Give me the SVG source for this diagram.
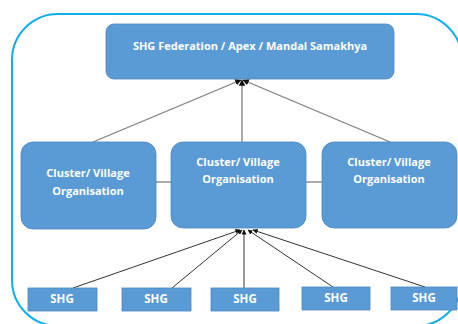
<svg xmlns="http://www.w3.org/2000/svg" width="458" height="324" viewBox="0 0 458 324">
<defs>
<marker id="ah" viewBox="0 0 10 10" refX="9" refY="5" markerWidth="5" markerHeight="5" orient="auto">
<path d="M0,0 L10,5 L0,10 z" fill="#111"/>
</marker>
<style>
.box{fill:#5B9BD5;stroke:#4A88C2;stroke-width:0.8}
.t{font-family:"Open Sans","Liberation Sans",sans-serif;font-weight:bold;fill:#fff;text-anchor:middle;font-size:11px}
.s{font-size:11.5px}
.c1{stroke:#7f7f7f;stroke-width:1.3;fill:none}
.c2{stroke:#333;stroke-width:1;fill:none}
</style>
</defs>
<rect width="458" height="324" fill="#fff"/>
<rect x="12" y="14" width="450" height="312" rx="46" fill="none" stroke="#10AEEA" stroke-width="2"/>
<g id="connectors">
<line class="c1" x1="156" y1="182" x2="171" y2="182"/>
<line class="c1" x1="306" y1="182" x2="322" y2="182"/>
<line class="c1" x1="93" y1="142" x2="241" y2="80" marker-end="url(#ah)"/>
<line class="c1" x1="242" y1="142" x2="242" y2="80" marker-end="url(#ah)"/>
<line class="c1" x1="390" y1="142" x2="243" y2="80" marker-end="url(#ah)"/>
<line class="c2" x1="73" y1="288" x2="240" y2="230" marker-end="url(#ah)"/>
<line class="c2" x1="172" y1="288" x2="242" y2="230" marker-end="url(#ah)"/>
<line class="c2" x1="244" y1="288" x2="244" y2="230" marker-end="url(#ah)"/>
<line class="c2" x1="333" y1="287" x2="248" y2="230" marker-end="url(#ah)"/>
<line class="c2" x1="425" y1="287" x2="253" y2="230" marker-end="url(#ah)"/>
</g>
<g id="apex">
<rect class="box" x="106" y="24" width="288" height="55" rx="8"/>
<text class="t" x="250" y="50">SHG Federation / Apex / Mandal Samakhya</text>
</g>
<g id="cluster1">
<rect class="box" x="21" y="142" width="135" height="87" rx="12"/>
<text class="t" x="88" y="177">Cluster/ Village</text>
<text class="t" x="88" y="195">Organisation</text>
</g>
<g id="cluster2">
<rect class="box" x="171" y="142" width="135" height="86" rx="12"/>
<text class="t" x="238" y="166">Cluster/ Village</text>
<text class="t" x="238" y="183">Organisation</text>
</g>
<g id="cluster3">
<rect class="box" x="322" y="142" width="135" height="86" rx="12"/>
<text class="t" x="389" y="166">Cluster/ Village</text>
<text class="t" x="389" y="183">Organisation</text>
</g>
<g id="shg1"><rect class="box" x="28" y="288" width="69" height="23"/><text class="t s" x="62" y="303">SHG</text></g>
<g id="shg2"><rect class="box" x="122" y="288" width="69" height="23"/><text class="t s" x="156" y="303">SHG</text></g>
<g id="shg3"><rect class="box" x="211" y="288" width="68" height="23"/><text class="t s" x="245" y="303">SHG</text></g>
<g id="shg4"><rect class="box" x="302" y="287" width="68" height="23"/><text class="t s" x="336" y="302">SHG</text></g>
<g id="shg5"><rect class="box" x="391" y="287" width="66" height="23"/><text class="t s" x="424" y="302">SHG</text></g>
</svg>
